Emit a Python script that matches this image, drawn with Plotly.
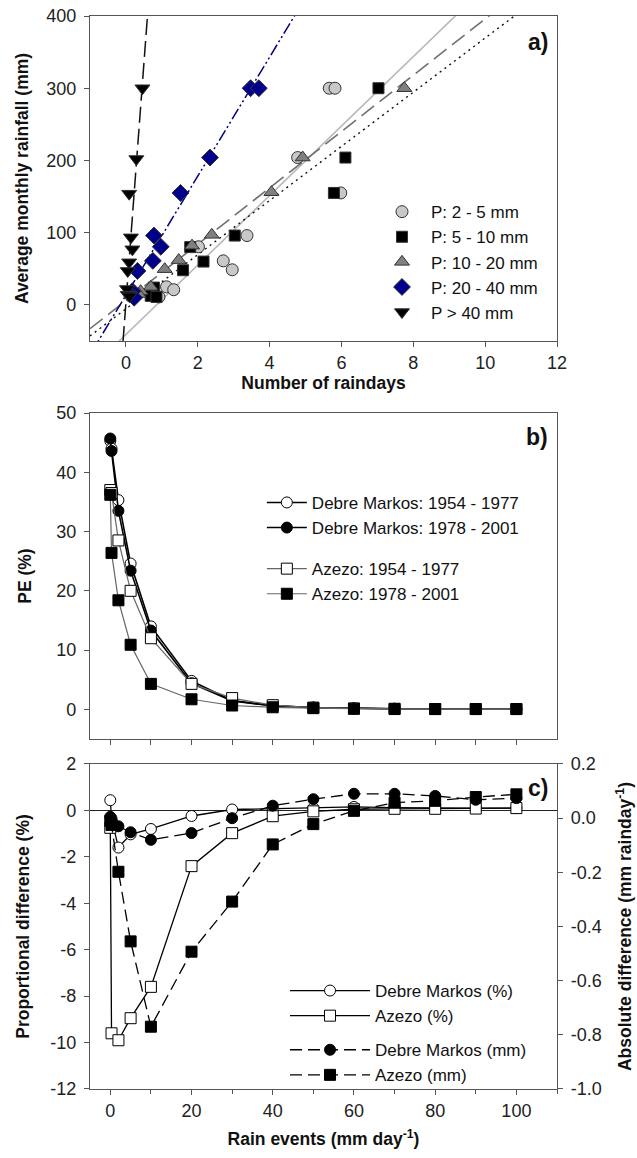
import plotly.graph_objects as go
import numpy as np

# ---------------- Panel a data ----------------
p2_5_x = [5.66, 5.82, 4.78, 5.98, 3.37, 2.02, 2.71, 2.96, 1.13, 1.33, 0.92]
p2_5_y = [300, 300, 204, 155, 96, 80.5, 61, 48.6, 25, 21, 11]
p5_10_x = [7.03, 6.11, 5.79, 3.03, 1.79, 2.16, 1.59, 0.78, 0.69, 0.85]
p5_10_y = [300, 204, 155, 96, 80, 60, 48, 24, 12.5, 11]
p10_20_x = [7.75, 4.92, 4.05, 2.39, 1.84, 1.47, 1.08, 0.69, 0.41, 0.35]
p10_20_y = [300, 204, 156, 97, 82, 62, 49.5, 25, 19, 15]
p20_40_x = [3.47, 3.70, 2.34, 1.52, 0.78, 0.97, 0.75, 0.32, 0.18, 0.23]
p20_40_y = [300, 300, 204, 155, 96, 80.5, 61, 47, 19, 10]
p40_x = [0.46, 0.29, 0.09, 0.14, 0.18, 0.09, 0.05, 0.03, 0.05, 0.10]
p40_y = [300, 202, 154, 93.5, 77, 59, 47, 22, 14, 12]

series_names_a = ["P: 2 - 5 mm", "P: 5 - 10 mm", "P: 10 - 20 mm", "P: 20 - 40 mm", "P > 40 mm"]
fit_slope = [48.1, 37.5, 39.0, 82.4, 662.0]
fit_intercept = [-41.0, -5.5, 6.0, 13.5, 3.0]
fit_x_extent = [-1.0, 12.0]

# ---------------- Panel b data ----------------
rain_x = [0, 0.3, 2, 5, 10, 20, 30, 40, 50, 60, 70, 80, 90, 100]
pe_dm_54 = [45.3, 44.0, 35.3, 24.6, 14.0, 4.8, 1.5, 0.6, 0.3, 0.15, 0.1, 0.05, 0.05, 0.05]
pe_dm_78 = [45.7, 43.6, 33.5, 23.4, 13.3, 4.4, 1.4, 0.6, 0.3, 0.15, 0.1, 0.05, 0.05, 0.05]
pe_az_54 = [37.0, 36.5, 28.5, 20.0, 12.0, 4.3, 1.9, 0.7, 0.3, 0.15, 0.1, 0.05, 0.05, 0.05]
pe_az_78 = [36.2, 26.4, 18.4, 10.9, 4.3, 1.7, 0.65, 0.35, 0.2, 0.1, 0.05, 0.05, 0.05, 0.05]

# ---------------- Panel c data ----------------
pd_dm_pct = [0.44, -0.35, -1.6, -1.03, -0.8, -0.24, 0.04, 0.08, 0.1, 0.15, 0.12, 0.1, 0.1, 0.1]
pd_az_pct = [-0.75, -9.6, -9.9, -8.95, -7.6, -2.4, -0.98, -0.25, -0.04, 0.05, 0.07, 0.07, 0.08, 0.1]
ad_dm_mm = [0.005, -0.01, -0.03, -0.052, -0.08, -0.055, 0.0, 0.046, 0.07, 0.09, 0.09, 0.082, 0.068, 0.074]
ad_az_mm = [-0.01, -0.025, -0.198, -0.455, -0.77, -0.493, -0.308, -0.097, -0.022, 0.027, 0.057, 0.064, 0.078, 0.088]

# tick labels
a_xticks = [0, 2, 4, 6, 8, 10, 12]
a_yticks = [0, 100, 200, 300, 400]
b_yticks = [0, 10, 20, 30, 40, 50]
b_xticks = [0, 10, 20, 30, 40, 50, 60, 70, 80, 90, 100]
c_xticks = [0, 20, 40, 60, 80, 100]
c_yticks = [-12, -10, -8, -6, -4, -2, 0, 2]
c_yticktext = ["-12", "-10", "-8", "-6", "-4", "-2", "0", "2"]
c_y2ticks = [-1.0, -0.8, -0.6, -0.4, -0.2, 0.0, 0.2]
c_y2ticktext = ["-1.0", "-0.8", "-0.6", "-0.4", "-0.2", "0.0", "0.2"]

FONT = "Liberation Sans, Arial, sans-serif"
OUT = "#333333"

fig = go.Figure()

# fit lines (panel a)
line_styles = [
    dict(color="#b8b8b8", width=1.6, dash="solid"),
    dict(color="#111111", width=1.4, dash="2px,4px"),
    dict(color="#707070", width=1.6, dash="16px,7px"),
    dict(color="#000080", width=1.5, dash="12px,3px,2px,3px,2px,3px"),
    dict(color="#111111", width=1.5, dash="16px,6px"),
]
xe = np.array(fit_x_extent)
for s, b, st in zip(fit_slope, fit_intercept, line_styles):
    fig.add_trace(go.Scatter(x=xe, y=s * xe + b, mode="lines", line=st,
                             showlegend=False, hoverinfo="skip", xaxis="x", yaxis="y"))

a_series = [
    (p2_5_x, p2_5_y, "circle", "#c8c8c8", 12),
    (p5_10_x, p5_10_y, "square", "#000000", 11),
    (p10_20_x, p10_20_y, "triangle-up", "#808080", 13),
    (p20_40_x, p20_40_y, "diamond", "#00008b", 13),
    (p40_x, p40_y, "triangle-down", "#000000", 13),
]
for (xs, ys, sym, col, sz), name in zip(a_series, series_names_a):
    fig.add_trace(go.Scatter(x=xs, y=ys, mode="markers", name=name,
                             marker=dict(symbol=sym, color=col, size=sz,
                                         line=dict(color=OUT, width=1)),
                             xaxis="x", yaxis="y", legend="legend"))

# panel b
b_series = [
    (pe_dm_54, "Debre Markos: 1954 - 1977", "circle", "white", "#000000", 1.6, "dm"),
    (pe_dm_78, "Debre Markos: 1978 - 2001", "circle", "black", "#000000", 1.6, "dm"),
    (pe_az_54, "Azezo: 1954 - 1977", "square", "white", "#666666", 1.2, "az"),
    (pe_az_78, "Azezo: 1978 - 2001", "square", "black", "#666666", 1.2, "az"),
]
for ys, name, sym, fill, lc, lw, grp in b_series:
    fig.add_trace(go.Scatter(x=rain_x, y=ys, mode="lines+markers", name=name,
                             line=dict(color=lc, width=lw),
                             marker=dict(symbol=sym, color=fill, size=11,
                                         line=dict(color="#000000", width=1)),
                             legendgroup=grp, xaxis="x2", yaxis="y2", legend="legend2"))

# panel c
c_series = [
    (pd_dm_pct, "Debre Markos (%)", "circle", "white", "solid", "y3", "pct"),
    (pd_az_pct, "Azezo (%)", "square", "white", "solid", "y3", "pct"),
    (ad_dm_mm, "Debre Markos (mm)", "circle", "black", "12px,6px", "y4", "mm"),
    (ad_az_mm, "Azezo (mm)", "square", "black", "12px,6px", "y4", "mm"),
]
for ys, name, sym, fill, dash, yax, grp in c_series:
    fig.add_trace(go.Scatter(x=rain_x, y=ys, mode="lines+markers", name=name,
                             line=dict(color="#000000", width=1.3, dash=dash),
                             marker=dict(symbol=sym, color=fill, size=11,
                                         line=dict(color="#000000", width=1)),
                             legendgroup=grp, xaxis="x3", yaxis=yax, legend="legend3"))

AX = dict(showline=True, linecolor="#555555", linewidth=1.2, mirror=True,
          ticks="outside", ticklen=5, tickcolor="#555555", showgrid=False,
          zeroline=False, automargin=False,
          tickfont=dict(size=18, color="#222222", family=FONT))
YAX = dict(AX, ticklabelstandoff=4)
TF = dict(size=17.5, color="#111111", family=FONT)
LF = dict(size=17, family=FONT, color="#111111")

dom_a = [0.6971, 1.0]
dom_b = [0.3262, 0.6300]
dom_c = [0.0, 0.3029]

fig.update_layout(
    width=637, height=1158,
    margin=dict(l=90, r=80, t=16, b=69),
    paper_bgcolor="white", plot_bgcolor="white",
    font=dict(family=FONT, color="#111111"),
    xaxis=dict(AX, domain=[0, 1], anchor="y", range=[-1, 12], tickvals=a_xticks,
               title=dict(text="<b>Number of raindays</b>", font=TF, standoff=5)),
    yaxis=dict(YAX, domain=dom_a, anchor="x", range=[-50, 400], tickvals=a_yticks,
               title=dict(text="<b>Average monthly rainfall (mm)</b>", font=TF, standoff=13)),
    xaxis2=dict(AX, domain=[0, 1], anchor="y2", range=[-5, 110], tickvals=b_xticks,
                showticklabels=False),
    yaxis2=dict(YAX, domain=dom_b, anchor="x2", range=[-5, 50], tickvals=b_yticks,
                title=dict(text="<b>PE (%)</b>", font=TF, standoff=20)),
    xaxis3=dict(AX, domain=[0, 1], anchor="y3", range=[-5, 110], tickvals=c_xticks,
                minor=dict(ticks="outside", ticklen=4, tickcolor="#555555", dtick=10, tick0=0),
                title=dict(text="<b>Rain events (mm day<sup>-1</sup>)</b>", font=TF, standoff=13)),
    yaxis3=dict(YAX, domain=dom_c, anchor="x3", range=[-12, 2], tickvals=c_yticks,
                ticktext=c_yticktext, zeroline=True, zerolinecolor="#222222", zerolinewidth=1,
                title=dict(text="<b>Proportional difference (%)</b>", font=TF, standoff=16)),
    yaxis4=dict(YAX, overlaying="y3", anchor="x3", side="right", range=[-1.0, 0.2],
                tickvals=c_y2ticks, ticktext=c_y2ticktext, mirror=False,
                title=dict(text="<b>Absolute difference (mm rainday<sup>-1</sup>)</b>", font=TF, standoff=18)),
    legend=dict(x=0.606, y=0.8340, xanchor="left", yanchor="top", bgcolor="rgba(0,0,0,0)",
                font=LF, itemwidth=48),
    legend2=dict(x=0.368, y=0.5630, xanchor="left", yanchor="top", bgcolor="rgba(0,0,0,0)",
                 font=LF, itemwidth=40, traceorder="grouped", tracegroupgap=16),
    legend3=dict(x=0.4176, y=0.1081, xanchor="left", yanchor="top", bgcolor="rgba(0,0,0,0)",
                 font=LF, itemwidth=80, traceorder="grouped", tracegroupgap=9),
    annotations=[
        dict(text="<b>a)</b>", xref="x domain", yref="y domain", x=0.985, y=0.92,
             xanchor="right", yanchor="middle", showarrow=False, font=dict(size=23, family=FONT)),
        dict(text="<b>b)</b>", xref="x2 domain", yref="y2 domain", x=0.985, y=0.925,
             xanchor="right", yanchor="middle", showarrow=False, font=dict(size=23, family=FONT)),
        dict(text="<b>c)</b>", xref="x3 domain", yref="y3 domain", x=0.985, y=0.925,
             xanchor="right", yanchor="middle", showarrow=False, font=dict(size=23, family=FONT)),
    ],
)

fig.write_html("out.html")
